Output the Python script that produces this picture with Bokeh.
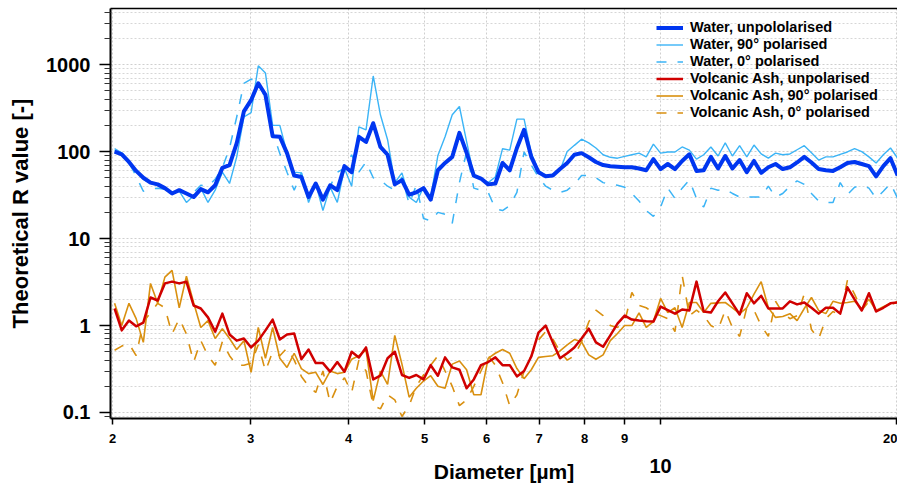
import numpy as np
from bokeh.plotting import figure
from bokeh.models import (LogAxis, FixedTicker, Range1d, Legend, LegendItem,
                          ColumnDataSource)
from bokeh.embed import file_html
from bokeh.resources import INLINE

# ---------------- data ----------------
diameter = np.geomspace(2.012, 20.06, 110)  # sampling grid of the simulation [um]

water_unpol = [100, 93, 76, 60, 50, 44, 42, 38, 33, 36,
               33, 30, 37, 34, 41, 65, 70, 125, 290, 390,
               610, 450, 150, 148, 96, 53, 51, 30, 43, 28,
               41, 36, 68, 58, 148, 129, 212, 113, 92, 42,
               47, 32, 34, 38, 28, 61, 74, 87, 164, 97,
               53, 49, 42, 43, 74, 61, 110, 178, 87, 58,
               52, 53, 63, 74, 92, 96, 86, 76, 70, 68,
               67, 66, 66, 64, 61, 82, 63, 72, 63, 78,
               93, 60, 61, 87, 64, 89, 64, 80, 58, 78,
               57, 66, 72, 63, 66, 75, 87, 75, 63, 61,
               60, 66, 74, 76, 72, 68, 52, 68, 84, 53]

water_90 = [108, 97, 78, 60, 48, 43, 41, 37, 34, 35,
            26, 31, 38, 26, 36, 58, 43, 87, 250, 280,
            970, 800, 200, 200, 97, 58, 57, 26, 43, 21,
            39, 26, 64, 40, 192, 178, 740, 265, 137, 44,
            57, 30, 26, 39, 30, 90, 148, 265, 330, 130,
            53, 48, 44, 51, 108, 104, 236, 236, 96, 61,
            53, 55, 61, 100, 118, 139, 126, 110, 92, 86,
            84, 88, 92, 96, 87, 122, 96, 99, 99, 113,
            104, 82, 92, 113, 89, 126, 89, 117, 87, 119,
            94, 84, 96, 92, 94, 105, 117, 97, 80, 87,
            87, 93, 99, 108, 100, 87, 74, 92, 110, 84]

water_0 = [103, 92, 75, 52, 35, 37, 38, 37, 34, 35,
           33, 34, 41, 40, 48, 65, 110, 250, 610, 680,
           650, 400, 170, 95, 58, 36, 57, 30, 43, 32,
           40, 58, 64, 92, 58, 76, 50, 47, 40, 36,
           51, 25, 41, 17, 16, 20, 19, 15, 44, 99,
           38, 36, 34, 22, 21, 24, 34, 99, 70, 51,
           40, 36, 34, 36, 42, 53, 53, 50, 44, 42,
           41, 39, 33, 27, 21, 18, 23, 38, 29, 38,
           47, 29, 23, 38, 36, 37, 33, 30, 30, 30,
           30, 40, 30, 33, 40, 46, 42, 33, 27, 26,
           26, 44, 32, 39, 41, 38, 29, 35, 43, 29]

ash_unpol = [1.57, 0.88, 1.14, 0.98, 1.08, 2.1, 1.94, 3.05, 3.2, 3.05,
             3.2, 1.7, 1.57, 1.24, 0.85, 1.37, 0.79, 0.67, 0.71, 0.56,
             0.67, 0.88, 1.17, 0.69, 0.79, 0.81, 0.41, 0.53, 0.37, 0.37,
             0.295, 0.38, 0.295, 0.5, 0.43, 0.56, 0.24, 0.265, 0.42, 0.5,
             0.27, 0.25, 0.27, 0.24, 0.35, 0.265, 0.43, 0.33, 0.31, 0.19,
             0.24, 0.35, 0.38, 0.43, 0.35, 0.35, 0.26, 0.30, 0.44, 0.83,
             1.0, 0.64, 0.42, 0.48, 0.56, 0.71, 0.92, 0.64, 0.57, 0.77,
             1.05, 1.3, 1.17, 1.14, 1.12, 1.11, 1.65, 1.5, 1.37, 1.53,
             1.49, 3.2, 1.45, 1.41, 1.9, 2.4, 1.8, 1.34, 2.35, 1.8,
             2.2, 1.57, 1.57, 1.57, 1.9, 1.75, 1.84, 1.6, 1.37, 1.6,
             1.6, 1.37, 2.75, 2.0, 1.49, 2.35, 1.45, 1.6, 1.8, 1.84]

ash_90 = [1.8, 1.0, 1.8, 1.2, 0.64, 3.05, 1.8, 3.6, 4.3, 1.6,
          3.7, 1.84, 0.95, 1.14, 0.71, 0.92, 0.71, 0.53, 0.67, 0.29,
          0.95, 0.42, 0.95, 0.42, 0.33, 0.48, 0.32, 0.28, 0.29, 0.21,
          0.30, 0.28, 0.29, 0.41, 0.45, 0.52, 0.137, 0.3, 0.21, 0.77,
          0.36, 0.15, 0.19, 0.23, 0.265, 0.2, 0.19, 0.36, 0.39, 0.31,
          0.16, 0.16, 0.42, 0.48, 0.53, 0.48, 0.32, 0.245, 0.31, 0.43,
          0.44, 0.45, 0.51, 0.6, 0.69, 0.65, 0.46, 0.41, 0.46, 0.67,
          0.81, 1.0, 1.0, 1.4, 0.95, 1.11, 2.05, 1.41, 1.6, 0.95,
          1.84, 1.84, 1.41, 1.8, 1.82, 1.84, 1.6, 1.37, 1.6, 2.3,
          3.2, 1.6, 1.24, 1.27, 1.37, 1.14, 1.57, 2.1, 1.49, 1.37,
          1.9, 1.8, 1.84, 1.9, 1.57, 2.0, 1.49, 1.65, 1.8, 1.84]

ash_0 = [0.52, 0.58, 0.62, 0.45, 1.1, 1.4, 1.8, 1.6, 0.8, 1.2,
         0.8, 0.38, 0.67, 0.45, 0.35, 0.65, 0.45, 0.35, 0.35, 0.37,
         0.6, 0.3, 0.5, 0.45, 0.55, 0.4, 0.26, 0.2, 0.17, 0.3,
         0.13, 0.2, 0.25, 0.17, 0.4, 0.3, 0.12, 0.11, 0.16, 0.14,
         0.09, 0.12, 0.2, 0.27, 0.35, 0.45, 0.3, 0.2, 0.12, 0.14,
         0.2, 0.3, 0.45, 0.35, 0.22, 0.12, 0.16, 0.3, 0.45, 0.68,
         0.85, 0.7, 0.5, 0.4, 0.45, 0.65, 1.1, 1.5, 1.3, 1.0,
         0.95, 1.1, 2.4, 1.7, 1.6, 1.4, 1.3, 1.2, 0.85, 3.8,
         1.3, 1.5, 1.3, 1.0, 0.9, 1.5, 0.95, 0.75, 1.6, 1.5,
         1.0, 0.75, 1.9, 1.4, 1.2, 1.3, 2.3, 0.9, 0.7, 1.2,
         1.45, 1.3, 3.3, 2.3, 1.5, 1.9, 1.5, 1.6, 1.7, 1.9]

x_ticks = [2, 3, 4, 5, 6, 7, 8, 9, 10, 20]
x_tick_labels = ["2", "3", "4", "5", "6", "7", "8", "9", "", "20"]
y_ticks = [0.1, 1, 10, 100, 1000]
y_tick_labels = ["0.1", "1", "10", "100", "1000"]
y_minor = [m * 10.0 ** e for e in range(-2, 4) for m in range(2, 10)]

series_names = ["Water, unpololarised", "Water, 90° polarised", "Water, 0° polarised",
                "Volcanic Ash, unpolarised", "Volcanic Ash, 90° polarised",
                "Volcanic Ash, 0° polarised"]

# ---------------- figure ----------------
FONT = "Liberation Sans"
p = figure(width=897, height=494, x_axis_type="log", y_axis_type="log",
           x_range=Range1d(1.988, 20.05), y_range=Range1d(0.0853, 4420),
           output_backend="svg", toolbar_location=None,
           min_border_left=110, min_border_right=0, min_border_top=8,
           min_border_bottom=76)
p.outline_line_color = None
p.background_fill_color = "white"
p.border_fill_color = "white"

src = ColumnDataSource(dict(d=diameter, wu=water_unpol, w90=water_90, w0=water_0,
                            au=ash_unpol, a90=ash_90, a0=ash_0))

BLUE = "#0036F0"
LBLUE = "#3BB4F6"
RED = "#D00000"
ORANGE = "#D99010"
DASH = "10 11"

r_w0 = p.line("d", "w0", source=src, line_color=LBLUE, line_width=1.5, line_dash=DASH)
r_w90 = p.line("d", "w90", source=src, line_color=LBLUE, line_width=1.4)
r_wu = p.line("d", "wu", source=src, line_color=BLUE, line_width=4, line_join="round")
r_a0 = p.line("d", "a0", source=src, line_color=ORANGE, line_width=1.6, line_dash=DASH)
r_a90 = p.line("d", "a90", source=src, line_color=ORANGE, line_width=1.6)
r_au = p.line("d", "au", source=src, line_color=RED, line_width=2.5, line_join="round")

# ---------------- axes ----------------
xa = p.xaxis[0]
xa.ticker = FixedTicker(ticks=x_ticks, minor_ticks=[])
xa.major_label_overrides = {float(t): l for t, l in zip(x_ticks, x_tick_labels)}
xa.major_label_text_font = FONT
xa.major_label_text_font_style = "bold"
xa.major_label_text_font_size = "13px"
xa.major_label_text_color = "black"
xa.major_tick_out = 6
xa.major_tick_in = 0
xa.minor_tick_out = 0
xa.minor_tick_in = 0
xa.major_label_standoff = 9
xa.axis_line_color = "black"
xa.axis_line_width = 2
xa.major_tick_line_color = "black"
xa.major_tick_line_width = 1.5

xa2 = LogAxis(ticker=FixedTicker(ticks=[10], minor_ticks=[]),
              major_label_overrides={10.0: "10"},
              axis_line_color=None, major_tick_line_color=None,
              minor_tick_line_color=None, major_tick_out=0, major_tick_in=0,
              minor_tick_out=0, minor_tick_in=0,
              major_label_standoff=13,
              major_label_text_font=FONT, major_label_text_font_style="bold",
              major_label_text_font_size="20px", major_label_text_color="black",
              axis_label="Diameter [µm]", axis_label_standoff=-16,
              axis_label_text_font=FONT, axis_label_text_font_style="bold",
              axis_label_text_font_size="21px", axis_label_text_color="black")
p.add_layout(xa2, "below")

# top frame line (the reference is cut off at the right, so no right border)
xtop = LogAxis(ticker=FixedTicker(ticks=[], minor_ticks=[]),
               axis_line_color="black", axis_line_width=1.5,
               major_tick_line_color=None, minor_tick_line_color=None,
               major_tick_out=0, major_tick_in=0, minor_tick_out=0, minor_tick_in=0,
               major_label_standoff=0, major_label_text_font_size="0px")
p.add_layout(xtop, "above")

ya = p.yaxis[0]
ya.ticker = FixedTicker(ticks=y_ticks, minor_ticks=y_minor)
ya.major_label_overrides = {float(t): l for t, l in zip(y_ticks, y_tick_labels)}
ya.major_label_text_font = FONT
ya.major_label_text_font_style = "bold"
ya.major_label_text_font_size = "20px"
ya.major_label_text_color = "black"
ya.major_tick_out = 11
ya.major_tick_in = 0
ya.minor_tick_out = 6
ya.minor_tick_in = 0
ya.major_label_standoff = 9
ya.axis_line_color = "black"
ya.axis_line_width = 2
ya.major_tick_line_color = "black"
ya.major_tick_line_width = 1.5
ya.minor_tick_line_color = "#333333"
ya.minor_tick_line_width = 1.2
ya.axis_label = "Theoretical R value [-]"
ya.axis_label_standoff = 10
ya.axis_label_text_font = FONT
ya.axis_label_text_font_style = "bold"
ya.axis_label_text_font_size = "22px"
ya.axis_label_text_color = "black"

# ---------------- grids ----------------
p.xgrid.ticker = FixedTicker(ticks=x_ticks, minor_ticks=[])
p.xgrid.grid_line_color = "#cfcfcf"
p.xgrid.grid_line_dash = "2 2"
p.ygrid.ticker = FixedTicker(ticks=y_ticks, minor_ticks=y_minor)
p.ygrid.grid_line_color = "#cfcfcf"
p.ygrid.grid_line_dash = "2 2"
p.ygrid.minor_grid_line_color = "#d6d6d6"
p.ygrid.minor_grid_line_dash = "2 2"

# ---------------- legend ----------------
legend = Legend(items=[LegendItem(label=n, renderers=[r]) for n, r in
                       zip(series_names, [r_wu, r_w90, r_w0, r_au, r_a90, r_a0])],
                location=(546, 298))
legend.label_text_font = FONT
legend.label_text_font_style = "bold"
legend.label_text_font_size = "14.5px"
legend.label_text_color = "black"
legend.glyph_width = 27
legend.glyph_height = 15
legend.label_height = 15
legend.label_standoff = 7
legend.spacing = 1
legend.padding = 5
legend.margin = 0
legend.border_line_color = None
legend.background_fill_alpha = 0
p.add_layout(legend)

open("out.html", "w").write(file_html(p, INLINE))
